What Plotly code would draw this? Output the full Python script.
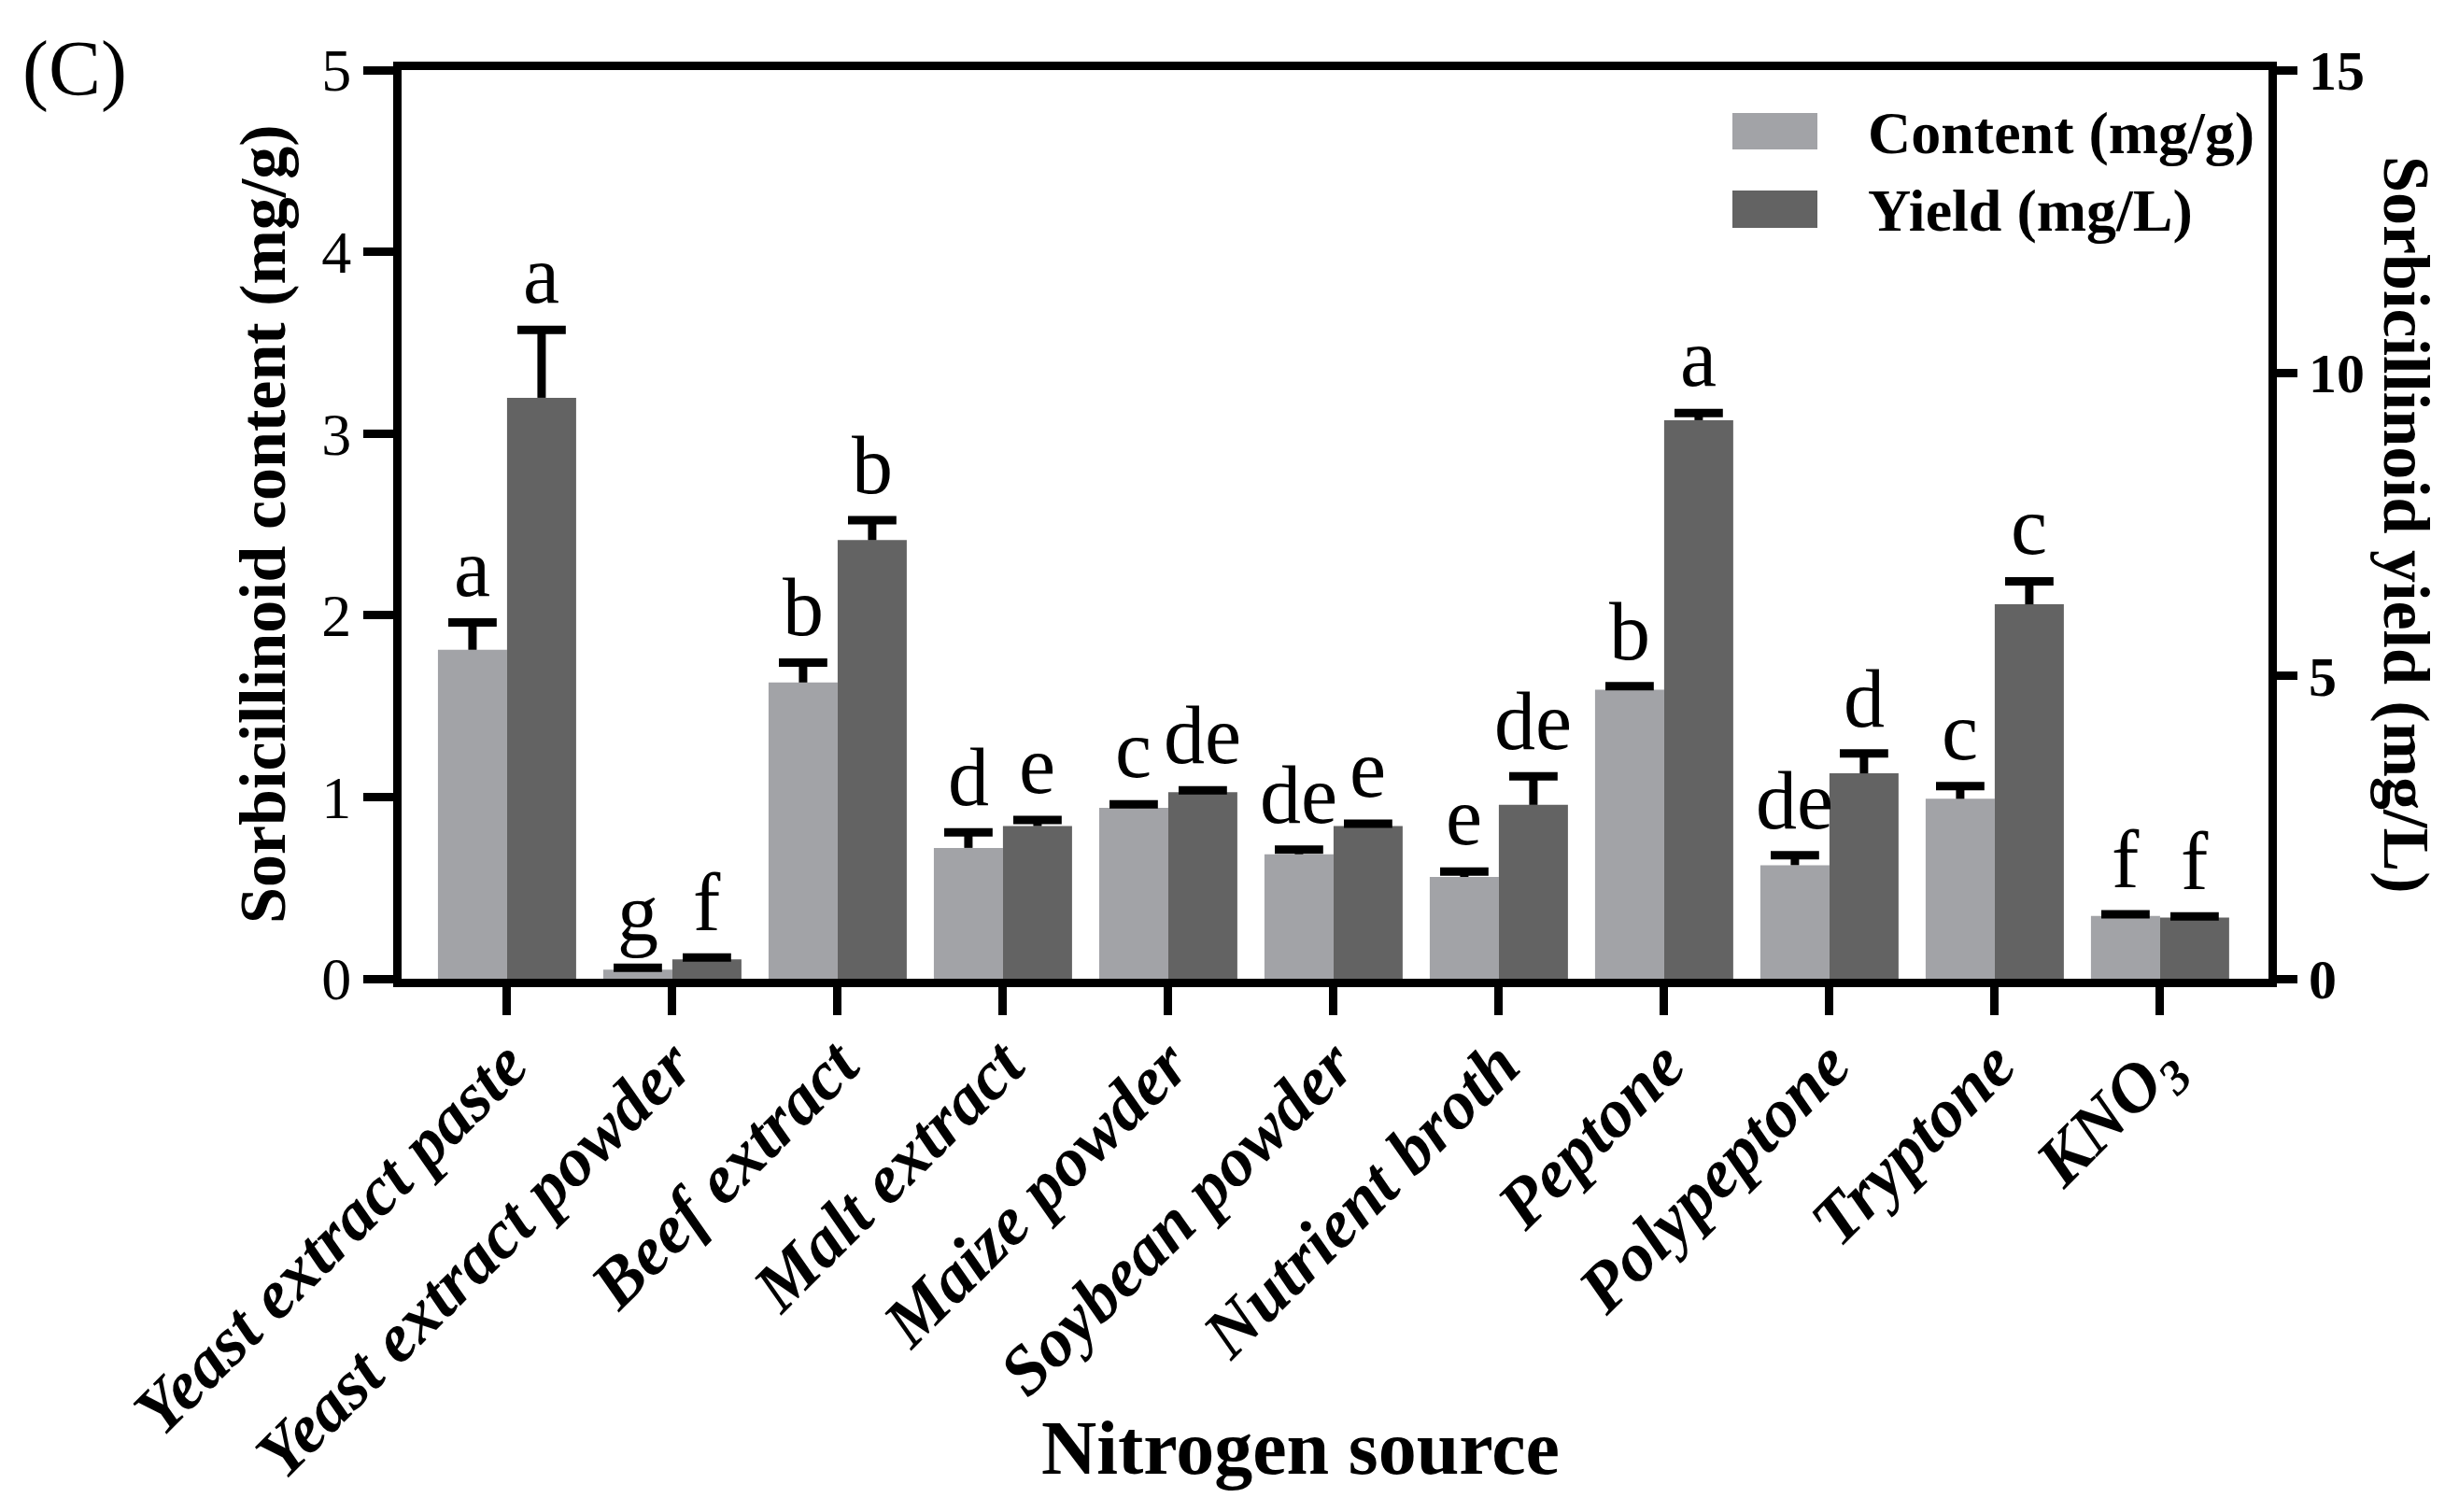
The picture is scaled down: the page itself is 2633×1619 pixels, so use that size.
import plotly.graph_objects as go

# ---------------- data ----------------
categories = ["Yeast extract paste", "Yeast extract powder", "Beef extract",
              "Malt extract", "Maize powder", "Soybean powder", "Nutrient broth",
              "Peptone", "Polypeptone", "Tryptone", "KNO3"]
tick_labels = ["Yeast extract paste", "Yeast extract powder", "Beef extract",
               "Malt extract", "Maize powder", "Soybean powder", "Nutrient broth",
               "Peptone", "Polypeptone", "Tryptone", "KNO<sub>3</sub>"]
content = [1.81, 0.05, 1.63, 0.72, 0.94, 0.685, 0.56, 1.59, 0.625, 0.99, 0.345]
content_err = [0.15, 0.01, 0.11, 0.085, 0.02, 0.025, 0.03, 0.02, 0.055, 0.07, 0.01]
yield_vals = [9.59, 0.32, 7.24, 2.52, 3.08, 2.52, 2.87, 9.22, 3.39, 6.18, 1.01]
yield_err = [1.12, 0.03, 0.33, 0.10, 0.03, 0.04, 0.47, 0.12, 0.33, 0.38, 0.02]
content_letters = ["a", "g", "b", "d", "c", "de", "e", "b", "de", "c", "f"]
yield_letters = ["a", "f", "b", "e", "de", "e", "de", "a", "d", "c", "f"]

# ---------------- style ----------------
W, H = 2633, 1619
L, R, T, B = 422, 2421, 67, 1040
FONT = "Liberation Serif"
C_CONTENT = "#A2A3A7"
C_YIELD = "#636363"
BAR_W = 0.418


def px(x):
    return (x - L) / (R - L)


def py(y):
    return (B - y) / (B - T)


n = len(categories)
xs = list(range(n))
x_content = [i - BAR_W / 2 for i in xs]
x_yield = [i + BAR_W / 2 for i in xs]
content_top = [v + e for v, e in zip(content, content_err)]
yield_top = [v + e for v, e in zip(yield_vals, yield_err)]

fig = go.Figure()
fig.add_bar(x=xs, y=content, width=BAR_W, offset=-BAR_W, name="Content (mg/g)",
            marker=dict(color=C_CONTENT, line=dict(width=0)),
            error_y=dict(type="data", array=content_err, arrayminus=[0] * n,
                         symmetric=False, color="black", thickness=9, width=0),
            yaxis="y")
fig.add_scatter(x=x_content, y=content_top, mode="markers", yaxis="y",
                marker=dict(symbol="line-ew", size=37, color="black",
                            line=dict(width=9, color="black")),
                hoverinfo="skip")
fig.add_bar(x=xs, y=yield_vals, width=BAR_W, offset=0, name="Yield (mg/L)",
            marker=dict(color=C_YIELD, line=dict(width=0)),
            error_y=dict(type="data", array=yield_err, arrayminus=[0] * n,
                         symmetric=False, color="black", thickness=9, width=0),
            yaxis="y2")
fig.add_scatter(x=x_yield, y=yield_top, mode="markers", yaxis="y2",
                marker=dict(symbol="line-ew", size=37, color="black",
                            line=dict(width=9, color="black")),
                hoverinfo="skip")

annotations = []
for i in range(n):
    annotations.append(dict(x=x_content[i], y=content_top[i], xref="x", yref="y",
                            text=content_letters[i], showarrow=False, yanchor="bottom",
                            xanchor="center", yshift=8,
                            font=dict(family=FONT, size=88, color="black")))
    annotations.append(dict(x=x_yield[i], y=yield_top[i], xref="x", yref="y2",
                            text=yield_letters[i], showarrow=False, yanchor="bottom",
                            xanchor="center", yshift=8,
                            font=dict(family=FONT, size=88, color="black")))

# axis titles
annotations.append(dict(x=px(273), y=py(553), xref="paper", yref="paper",
                        text="<b>Sorbicillinoid content (mg/g)</b>", textangle=-90,
                        showarrow=False, xanchor="center", yanchor="middle",
                        font=dict(family=FONT, size=70, color="black")))
annotations.append(dict(x=px(2569), y=py(554), xref="paper", yref="paper",
                        text="<b>Sorbicillinoid yield (mg/L)</b>", textangle=90,
                        showarrow=False, xanchor="center", yanchor="middle",
                        font=dict(family=FONT, size=70, color="black")))
annotations.append(dict(x=px(1384), y=py(1542), xref="paper", yref="paper",
                        text="<b>Nitrogen source</b>",
                        showarrow=False, xanchor="center", yanchor="middle",
                        font=dict(family=FONT, size=82, color="black")))
annotations.append(dict(x=px(72), y=py(66), xref="paper", yref="paper",
                        text="(C)", showarrow=False, xanchor="center", yanchor="middle",
                        font=dict(family=FONT, size=84, color="black")))

# legend (drawn manually to match large swatches)
shapes = [
    dict(type="rect", xref="paper", yref="paper", x0=px(1847), x1=px(1938),
         y0=py(152), y1=py(113), fillcolor=C_CONTENT, line=dict(width=0)),
    dict(type="rect", xref="paper", yref="paper", x0=px(1847), x1=px(1938),
         y0=py(236), y1=py(196), fillcolor=C_YIELD, line=dict(width=0)),
]
annotations.append(dict(x=px(1990), y=py(134), xref="paper", yref="paper",
                        text="<b>Content (mg/g)</b>", showarrow=False,
                        xanchor="left", yanchor="middle",
                        font=dict(family=FONT, size=64, color="black")))
annotations.append(dict(x=px(1990), y=py(217), xref="paper", yref="paper",
                        text="<b>Yield (mg/L)</b>", showarrow=False,
                        xanchor="left", yanchor="middle",
                        font=dict(family=FONT, size=64, color="black")))

fig.update_layout(
    width=W, height=H,
    margin=dict(l=L, r=W - R, t=T, b=H - B, pad=0, autoexpand=False),
    paper_bgcolor="white", plot_bgcolor="white",
    font=dict(family=FONT, color="black"),
    showlegend=False,
    barmode="overlay",
    annotations=annotations,
    shapes=shapes,
    xaxis=dict(range=[-0.638, 10.656], tickmode="array", tickvals=xs, ticktext=tick_labels,
               tickangle=-45, tickfont=dict(family=FONT, size=74, color="black",
                                            weight="bold", style="italic"),
               ticklabelstandoff=-20, automargin=False,
               ticks="outside", ticklen=30, tickwidth=9, tickcolor="black",
               showline=True, linewidth=9, linecolor="black", mirror=True,
               showgrid=False, zeroline=False),
    yaxis=dict(range=[0, 5], tickmode="linear", tick0=0, dtick=1, automargin=False,
               tickfont=dict(family=FONT, size=64, color="black"),
               ticks="outside", ticklen=32, tickwidth=9, tickcolor="black",
               showline=True, linewidth=9, linecolor="black",
               showgrid=False, zeroline=False),
    yaxis2=dict(range=[0, 15], tickmode="linear", tick0=0, dtick=5, automargin=False,
                overlaying="y", side="right",
                tickfont=dict(family=FONT, size=60, color="black", weight="bold"),
                ticks="outside", ticklen=22, tickwidth=9, tickcolor="black",
                showline=True, linewidth=9, linecolor="black",
                showgrid=False, zeroline=False),
)

fig.write_html("out.html")
